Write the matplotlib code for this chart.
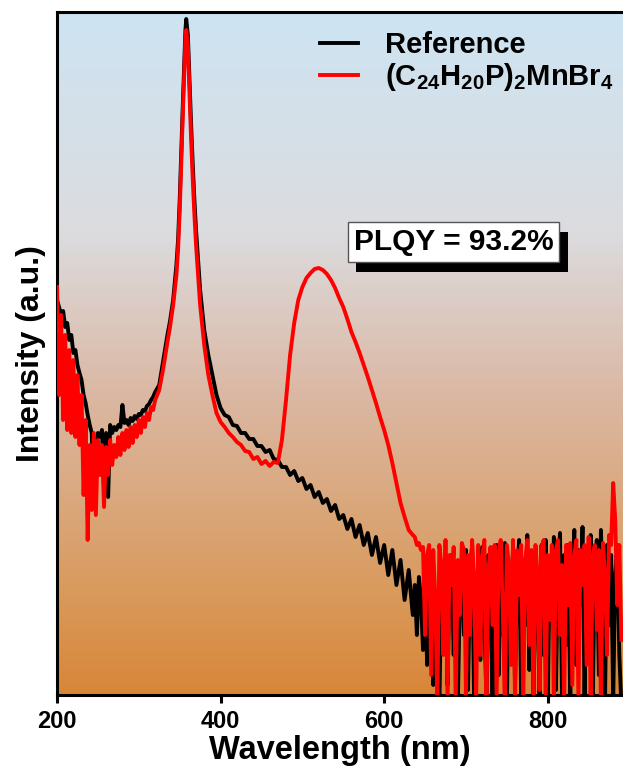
import matplotlib
matplotlib.use("Agg")
import matplotlib.pyplot as plt
import matplotlib.patheffects as pe
import numpy as np
from matplotlib.colors import LinearSegmentedColormap

plt.rcParams['font.family'] = ['Liberation Sans', 'DejaVu Sans']
plt.rcParams['font.weight'] = 'bold'
plt.rcParams['mathtext.fontset'] = 'custom'
plt.rcParams['mathtext.rm'] = 'Liberation Sans:bold'
plt.rcParams['mathtext.bf'] = 'Liberation Sans:bold'

# wavelength grid (nm): fine steps where the spectra are noisy or peaked
wavelength = np.concatenate([
    np.arange(200, 321, 2.5),
    [325, 330, 335, 338, 342, 346, 348, 350, 352, 354, 356, 357, 358, 360, 362, 364, 366, 368, 370, 375],
    np.arange(380, 636, 5),
    np.arange(637.5, 891, 2.5),
])

# reference spectrum (a.u.)
reference = [
    # 200 - 320 nm
    395, 388, 380, 384, 368, 372, 355, 360, 342, 345,
    330, 322, 315, 300, 292, 280, 270, 262, 192, 250,
    262, 258, 265, 205, 262, 198, 270, 262, 268, 265,
    270, 268, 290, 272, 275, 270, 277, 274, 279, 276,
    281, 280, 285, 284, 289, 291, 295, 298, 303,
    # 325 - 375 nm (peak)
    310, 335, 360, 373, 395, 430, 455, 495, 545, 595,
    640, 665, 676, 660, 615, 570, 530, 495, 465, 405,
    # 380 - 635 nm
    365, 340, 320, 300, 287, 280, 278, 270, 269, 262,
    262, 256, 256, 249, 249, 243, 245, 236, 235, 228,
    228, 220, 224, 214, 217, 206, 210, 198, 203, 192,
    196, 184, 190, 176, 180, 166, 176, 158, 170, 150,
    162, 140, 158, 132, 150, 120, 145, 110, 135, 95,
    125, 80,
    # 637.5 - 890 nm
    110, 60, 118, 95, 45, 112, 30, 100, 70, 10,
    105, 85, -10, 120, 55, 130, 10, 115, 140, 40,
    125, -10, 95, 135, 60, 145, 5, 120, 150, -10,
    110, 130, 35, 148, 80, -5, 140, 100, -10, 135,
    150, 20, 125, 60, 152, -10, 130, 90, 145, 10,
    120, 155, -5, 135, 70, 160, 25, 130, -10, 145,
    95, -5, 150, 40, 155, -10, 135, 80, 158, 5,
    125, 162, -5, 140, 50, 150, -10, 120, 165, 30,
    145, 90, 168, -5, 140, 60, 160, -10, 130, 155,
    20, 165, 100, -5, 150, 70, 140, -5, 120, 150,
    40, -10,
]

# (C24H20P)2MnBr4 spectrum (a.u.)
sample = [
    # 200 - 320 nm
    408, 300, 380, 275, 360, 265, 345, 262, 335, 258,
    320, 250, 300, 200, 275, 155, 250, 185, 262, 180,
    255, 220, 250, 188, 248, 220, 255, 230, 250, 238,
    258, 240, 262, 245, 265, 248, 268, 252, 270, 258,
    275, 262, 278, 268, 282, 275, 288, 285, 295,
    # 325 - 375 nm (peak)
    305, 327, 353, 367, 390, 420, 445, 483, 535, 585,
    630, 655, 665, 650, 603, 555, 515, 480, 450, 390,
    # 380 - 635 nm
    350, 320, 300, 282, 273, 268, 262, 258, 253, 250,
    244, 243, 236, 238, 231, 234, 229, 233, 232, 255,
    295, 340, 372, 395, 408, 417, 422, 426, 427, 425,
    421, 415, 407, 397, 388, 376, 363, 353, 342, 330,
    318, 305, 292, 278, 265, 250, 232, 212, 192, 178,
    165, 160,
    # 637.5 - 890 nm
    158, 150, 152, 145, 148, 60, 140, 150, 20, 145,
    95, -10, 150, 130, 40, 155, -5, 140, 110, 148,
    -10, 135, 80, 152, 145, 0, 140, 60, 155, 115,
    -5, 150, 40, 138, 155, -10, 125, 148, 70, 150,
    0, 142, 155, 85, -10, 150, 130, 30, 155, -5,
    145, 100, 150, -10, 135, 155, 50, 145, -5, 150,
    120, 5, 148, 155, -10, 140, 75, 150, -5, 145,
    155, 60, 130, -10, 150, 90, 152, 10, 140, 155,
    -5, 145, 110, 150, 30, 158, -10, 140, 150, 65,
    145, -5, 152, 120, 40, 160, 150, 212, 175, 90,
    150, 55,
]

labels = ["Reference", r"(C$_\mathbf{24}$H$_\mathbf{20}$P)$_\mathbf{2}$MnBr$_\mathbf{4}$"]
bg_colors = ["#d88638", "#d99a5c", "#dbb9a6", "#dcdcdf", "#cde4f2"]

fig = plt.figure(figsize=(6.23, 7.76), dpi=100)
ax = fig.add_axes([57 / 623, 81 / 776, 1 - 57 / 623, 683 / 776])

cmap = LinearSegmentedColormap.from_list("bg", list(zip([0, 0.15, 0.45, 0.68, 1.0], bg_colors)))
grad = np.linspace(0, 1, 256)[:, None]
ax.imshow(grad, extent=(0, 1, 0, 1), transform=ax.transAxes, aspect="auto",
          cmap=cmap, origin="lower", zorder=0)

ax.plot(wavelength, reference, color="black", lw=2.8, label=labels[0], zorder=2)
ax.plot(wavelength, sample, color="#ff0000", lw=2.8, label=labels[1], zorder=3)

ax.set_xlim(200, 892)
ax.set_ylim(0, 683)
ax.set_xticks([200, 400, 600, 800])
ax.set_yticks([])
ax.tick_params(axis="x", direction="out", length=6, width=2.2, labelsize=17, pad=5)
for s in ["left", "bottom", "top"]:
    ax.spines[s].set_linewidth(2.2)
ax.spines["right"].set_visible(False)

ax.set_xlabel("Wavelength (nm)", fontsize=23.5, fontweight="bold", labelpad=1)
ax.set_ylabel("Intensity (a.u.)", fontsize=23, fontweight="bold", labelpad=8)

leg = ax.legend(loc="upper left", bbox_to_anchor=(0.419, 1.010), frameon=False,
                fontsize=21, handlelength=1.3, handletextpad=0.93, labelspacing=0.05)
for line in leg.get_lines():
    line.set_linewidth(2.8)

t = ax.text(685, 453, "PLQY = 93.2%", fontsize=21.5, fontweight="bold", ha="center", va="center",
            bbox=dict(boxstyle="square,pad=0.2", facecolor="white", edgecolor="#555555", lw=1),
            zorder=5)
t.get_bbox_patch().set_path_effects([
    pe.SimplePatchShadow(offset=(6, -7), shadow_rgbFace="black", alpha=1.0),
    pe.Normal(),
])

fig.savefig("out.png", dpi=100)
